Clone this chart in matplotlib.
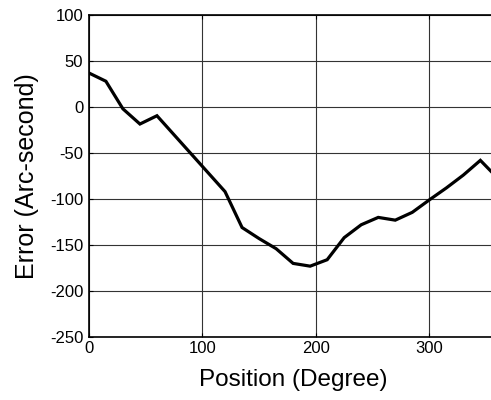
import matplotlib
matplotlib.use("Agg")
import matplotlib.pyplot as plt

plt.rcParams['font.family'] = ['Liberation Sans', 'DejaVu Sans']
plt.rcParams['axes.unicode_minus'] = False

position = [0, 15, 30, 45, 60, 120, 135, 150, 165, 180, 195, 210, 225,
            240, 255, 270, 285, 300, 315, 330, 345, 360]
error = [37, 28, -2, -18.5, -9.5, -92, -131, -143, -154, -170, -173, -166, -142,
         -128, -120, -123, -114.5, -101, -88, -74, -58, -77]

fig = plt.figure(figsize=(4.91, 4.00), dpi=100)
ax = fig.add_axes([0.181, 0.1575, 0.832, 0.805])

ax.plot(position, error, color='black', linewidth=2.3, solid_joinstyle='miter')

ax.set_xlim(0, 360)
ax.set_ylim(-250, 100)
ax.set_xticks([0, 100, 200, 300])
ax.set_yticks(range(-250, 101, 50))
ax.grid(True, color='#333333', linewidth=0.8)
ax.set_axisbelow(True)
ax.tick_params(direction='in', length=3, labelsize=12, top=True, right=True)
ax.tick_params(axis='y', pad=4)
ax.tick_params(axis='x', pad=3)
for s in ax.spines.values():
    s.set_linewidth(1.2)

ax.set_xlabel('Position (Degree)', fontsize=17.5, labelpad=9)
ax.set_ylabel('Error (Arc-second)', fontsize=18, labelpad=8)

fig.savefig('out.png', dpi=100)
